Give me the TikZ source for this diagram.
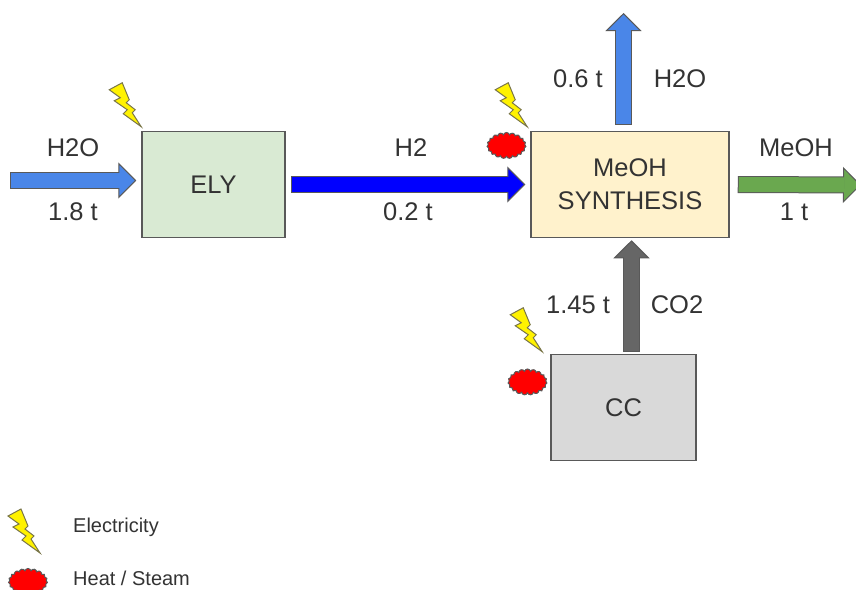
\documentclass[tikz,border=0pt]{standalone}
\usepackage{fontspec}
\setmainfont{Liberation Sans}
\usetikzlibrary{positioning, calc, arrows.meta, shapes.symbols}
\definecolor{waterBlue}{HTML}{4A86E8}
\definecolor{hydrogenBlue}{HTML}{0000FF}
\definecolor{methanolGreen}{HTML}{6AA84F}
\definecolor{carbonGray}{HTML}{666666}
\definecolor{edgeGray}{HTML}{595959}
\definecolor{textGray}{HTML}{333333}
\tikzset{
    every node/.style={text=textGray, font=\fontsize{25.5}{33}\selectfont, inner sep=0pt}, % text of the labels
    unitBox/.style={draw=edgeGray, line width=1.5pt, align=center, minimum height=106pt}, % process boxes
    flow/.style={
        draw=edgeGray, line width=17pt,
        -{Triangle[length=18pt, width=36pt, line width=1pt, color=edgeGray, fill=#1]},
        postaction={draw=#1, line width=15pt, -, shorten >=16.5pt, shorten <=1pt},
    }, % thick outlined arrows
    heat/.style={cloud, cloud puffs=19, cloud puff arc=150, aspect=1.5, draw=edgeGray, line width=1pt, fill=red, minimum width=39pt, minimum height=26pt}, % red steam cloud
    legendText/.style={font=\fontsize{20}{24}\selectfont, anchor=west},
    bolt/.pic={
        \draw[draw=black!50!yellow!80!black, line width=1pt, fill=yellow, line join=miter]
            (-32,-37) -- (-19,-44) -- (-12,-27) -- (-15,-24) -- (-6,-17) -- (-9,-14) -- (0,0)
            -- (-18,-13) -- (-14,-17) -- (-27,-26) -- (-21,-29) -- cycle;
    }, % lightning, origin at its lower tip
}
\begin{document}
\begin{tikzpicture}[x=1pt, y=-1pt]
    \useasboundingbox (0,0) rectangle (856,589);
    \node[unitBox, minimum width=143pt, fill={rgb,255:red,217;green,234;blue,211}] (ely) at (213.5,184.5) {ELY};
    \node[unitBox, minimum width=198pt, fill={rgb,255:red,255;green,242;blue,204}, right of=ely, node distance=416.5pt] (meoh) {MeOH\\SYNTHESIS};
    \node[unitBox, minimum width=145pt, fill={rgb,255:red,217;green,217;blue,217}, below of=meoh, node distance=223pt, xshift=-6.5pt] (cc) {CC};

    % free ends of the arrows
    \coordinate (waterIn) at (10,180.5);
    \coordinate (waterOut) at (623.5,13);
    \coordinate (methanolOut) at (861,185);
    \coordinate (carbonOut) at (631.5,351.5);

    \draw[flow=waterBlue] (waterIn) -- ($(ely.west)+(-5,-4)$);
    \draw[flow=hydrogenBlue] ($(ely.east)+(5,0)$) -- ($(meoh.west)+(-5,0)$);
    \draw[flow=waterBlue] ($(waterOut |- meoh.north)+(0,-6)$) -- (waterOut);
    \draw[flow=methanolGreen] ($(meoh.east)+(8,0)$) -- (methanolOut);
    \draw[flow=carbonGray] (carbonOut) -- ($(carbonOut |- meoh.south)+(0,2)$);

    % labels
    \node (waterInName) at (73,148) {H2O};
    \node[below of=waterInName, node distance=64pt] (waterInMass) {1.8 t};
    \node (hydrogenName) at (411,148) {H2};
    \node[below of=hydrogenName, node distance=64pt, xshift=-3pt] (hydrogenMass) {0.2 t};
    \node (methanolName) at (796,148) {MeOH};
    \node[below of=methanolName, node distance=64pt, xshift=-2pt] (methanolMass) {1 t};
    \node (waterOutMass) at (578,79) {0.6 t};
    \node[right of=waterOutMass, node distance=102pt] (waterOutName) {H2O};
    \node (carbonMass) at (578,305) {1.45 t};
    \node[right of=carbonMass, node distance=99pt] (carbonName) {CO2};

    % energy inputs
    \pic (boltEly) at ($(ely.north west)+(0,-4)$) {bolt};
    \pic (boltMeoh) at ($(meoh.north west)+(-3,-4)$) {bolt};
    \pic (boltCc) at ($(cc.north west)+(-8,-2)$) {bolt};
    \node[heat] (heatMeoh) at (506.5,145.5) {};
    \node[heat] (heatCc) at (527.5,382) {};

    % legend
    \pic (boltLegend) at (40,553) {bolt};
    \node[heat] (heatLegend) at (28,581.5) {};
    \node[legendText] (legendBolt) at (73,527) {Electricity};
    \node[legendText, below=51pt of legendBolt.west, anchor=west] (legendHeat) {Heat / Steam};
\end{tikzpicture}
\end{document}
